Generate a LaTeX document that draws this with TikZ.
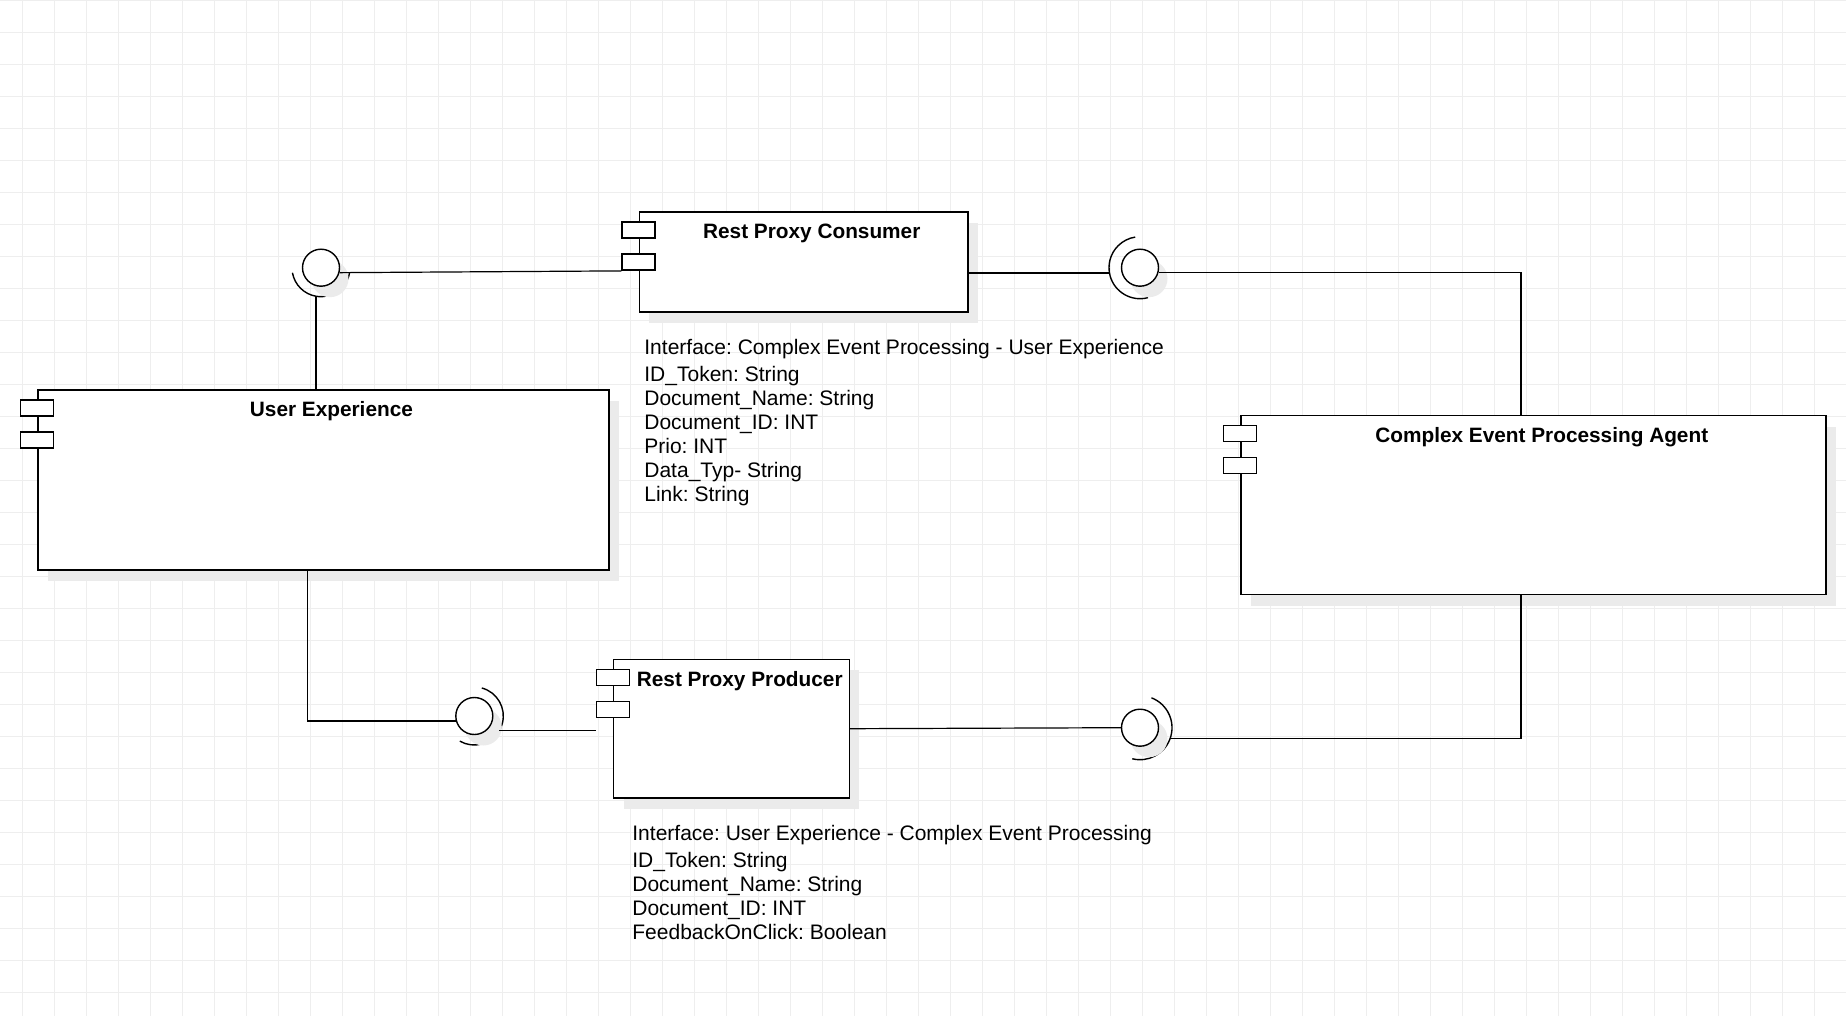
\documentclass[tikz,border=0pt]{standalone}
\usepackage{fontspec}
\setmainfont{Liberation Sans}
\usetikzlibrary{shadows}
\frenchspacing

\definecolor{gridgray}{HTML}{EEEEEE}
\definecolor{shadowgray}{HTML}{EBEBEB}

\tikzset{
  gridline/.style={draw=gridgray, line width=.5pt},
  comp/.style={draw=black, line width=.8pt, fill=white, inner sep=0pt,
    drop shadow={shadow xshift=5pt, shadow yshift=-5.5pt, fill=shadowgray, opacity=1}},
  port/.style={draw=black, line width=.7pt, fill=white, inner sep=0pt,
    minimum width=16.5pt, minimum height=8pt},
  comptitle/.style={font=\bfseries\fontsize{10.4}{12}\selectfont, anchor=base, inner sep=0pt},
  info/.style={font=\fontsize{10.5}{12}\selectfont, align=left, anchor=north west, inner sep=0pt},
  ball/.style={circle, draw=black, line width=.7pt, fill=white, inner sep=0pt, minimum size=18.5pt,
    drop shadow={shadow xshift=4.5pt, shadow yshift=-5.5pt, fill=shadowgray, opacity=1}},
  socket/.style={draw=black, line width=.7pt},
  wire/.style={draw=black, line width=.6pt},
}

\begin{document}
\begin{tikzpicture}[x=.5pt,y=-.5pt]
    \useasboundingbox (0,0) rectangle (1846,1016);

    %% background grid
    \foreach \gx in {0,...,56}
      \draw[gridline] (22.3+32*\gx,0) -- (22.3+32*\gx,1016);
    \foreach \gy in {0,...,31}
      \draw[gridline] (0,0.3+32*\gy) -- (1846,0.3+32*\gy);

    %% components
    \node (ue) at (323.2,479.75) [comp, minimum width=285.5pt, minimum height=90pt] {};
    \node (rpc) at (803.5,262) [comp, minimum width=164.2pt, minimum height=50pt] {};
    \node (cep) at (1533.5,505) [comp, minimum width=292.5pt, minimum height=89.5pt] {};
    \node (rpp) at (731.5,728.7) [comp, minimum width=117.85pt, minimum height=69.35pt] {};

    %% ports
    \node (ue-p1) at ([yshift=-9.5pt]ue.north west) [port] {};
    \node (ue-p2) at ([yshift=-25.5pt]ue.north west) [port] {};
    \node (rpc-p1) at ([yshift=-9.5pt]rpc.north west) [port] {};
    \node (rpc-p2) at ([yshift=-25.5pt]rpc.north west) [port] {};
    \node (cep-p1) at ([yshift=-9.5pt]cep.north west) [port] {};
    \node (cep-p2) at ([yshift=-25.5pt]cep.north west) [port] {};
    \node (rpp-p1) at ([yshift=-9.5pt]rpp.north west) [port] {};
    \node (rpp-p2) at ([yshift=-25.5pt]rpp.north west) [port] {};

    %% titles
    \node (ue-title) at ([xshift=4.125pt,yshift=-13.75pt]ue.north) [comptitle] {User Experience};
    \node (rpc-title) at ([xshift=4.125pt,yshift=-13.75pt]rpc.north) [comptitle] {Rest Proxy Consumer};
    \node (cep-title) at ([xshift=4.125pt,yshift=-13.75pt]cep.north) [comptitle] {Complex Event Processing Agent};
    \node (rpp-title) at ([xshift=4.125pt,yshift=-13.75pt]rpp.north) [comptitle] {Rest Proxy Producer};

    %% interface data
    \node (rpc-info) at (644,338.6) [info] {Interface: Complex Event Processing - User Experience\\[1.5pt]
      ID\_Token: String\\
      Document\_Name: String\\
      Document\_ID: INT\\
      Prio: INT\\
      Data\_Typ- String\\
      Link: String};
    \node (rpp-info) at (632,825) [info] {Interface: User Experience - Complex Event Processing\\[1.5pt]
      ID\_Token: String\\
      Document\_Name: String\\
      Document\_ID: INT\\
      FeedbackOnClick: Boolean};

    %% provided / required interfaces
    \draw[socket] ([shift={(10:29)}]321,267.7) arc[start angle=10,end angle=170,radius=29];
    \node (ball-ul) at (321,267.7) [ball] {};
    \coordinate (sock-ul) at ([shift={(100:29)}]ball-ul.center);

    \draw[socket] ([shift={(75:31)}]1140,267.7) arc[start angle=75,end angle=261,radius=31];
    \node (ball-ur) at (1140,267.7) [ball] {};
    \coordinate (sock-ur) at ([shift={(170:31)}]ball-ur.center);

    \draw[socket] ([shift={(-75:29)}]474.3,716) arc[start angle=-75,end angle=120,radius=29];
    \node (ball-bl) at (474.3,716) [ball] {};
    \coordinate (sock-bl) at ([shift={(30:29)}]ball-bl.center);

    \draw[socket] ([shift={(-69:32)}]1140,727.7) arc[start angle=-69,end angle=104,radius=32];
    \node (ball-br) at (1140,727.7) [ball] {};
    \coordinate (sock-br) at ([shift={(20:32)}]ball-br.center);

    \coordinate (cep-in) at ([xshift=-6.25pt]cep.north);
    \coordinate (cep-out) at ([xshift=-6.25pt]cep.south);
    \coordinate (ue-out) at ([xshift=-8pt]ue.south);

    %% connectors
    \draw[wire] (ball-ul.-15) -- (rpc-p2.south west);
    \draw[wire] (sock-ul) -- (sock-ul |- ue.north);
    \draw[wire] (sock-ur) -- (sock-ur -| rpc.east);
    \draw[wire] (ball-ur.-15) -| (cep-in);
    \draw[wire] (ue-out) |- (ball-bl.-165);
    \draw[wire] (sock-bl) -- (sock-bl -| rpp-p2.west);
    \draw[wire] (rpp.east) -- (ball-br.west);
    \draw[wire] (sock-br) -| (cep-out);
\end{tikzpicture}
\end{document}
